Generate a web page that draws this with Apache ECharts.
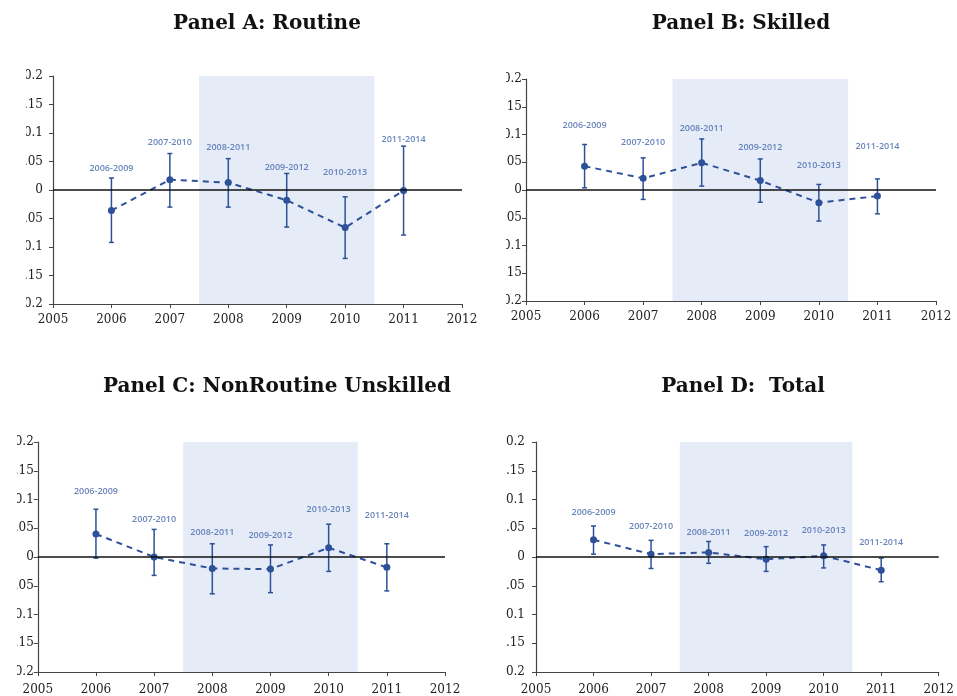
<!DOCTYPE html>
<html>
<head>
<meta charset="utf-8">
<script src="https://cdn.jsdelivr.net/npm/echarts@6/dist/echarts.min.js"></script>
<style>
html,body{margin:0;padding:0;background:#fff;}
#chart{width:957px;height:696px;}
</style>
</head>
<body>
<div id="chart"></div>
<script>
// ---- data ----
const years = [2006, 2007, 2008, 2009, 2010, 2011];
const periodLabels = ['2006-2009', '2007-2010', '2008-2011', '2009-2012', '2010-2013', '2011-2014'];
const panelTitles = ['Panel A: Routine', 'Panel B: Skilled', 'Panel C: NonRoutine Unskilled', 'Panel D:  Total'];
const shadeRange = [2007.5, 2010.5];

const routineEst = [-0.036, 0.018, 0.013, -0.018, -0.066, -0.001];
const routineHi  = [0.021, 0.064, 0.055, 0.029, -0.012, 0.077];
const routineLo  = [-0.092, -0.030, -0.030, -0.065, -0.120, -0.079];
const routineLabelY = [0.038, 0.083, 0.074, 0.040, 0.030, 0.089];

const skilledEst = [0.043, 0.021, 0.049, 0.017, -0.023, -0.011];
const skilledHi  = [0.082, 0.058, 0.092, 0.056, 0.010, 0.020];
const skilledLo  = [0.004, -0.017, 0.007, -0.022, -0.056, -0.043];
const skilledLabelY = [0.117, 0.086, 0.111, 0.076, 0.044, 0.079];

const nonroutEst = [0.040, 0.000, -0.020, -0.021, 0.016, -0.018];
const nonroutHi  = [0.083, 0.048, 0.023, 0.021, 0.057, 0.023];
const nonroutLo  = [-0.002, -0.032, -0.064, -0.062, -0.025, -0.059];
const nonroutLabelY = [0.114, 0.065, 0.042, 0.038, 0.082, 0.072];

const totalEst = [0.030, 0.005, 0.008, -0.004, 0.002, -0.023];
const totalHi  = [0.054, 0.029, 0.027, 0.018, 0.021, -0.002];
const totalLo  = [0.005, -0.020, -0.011, -0.025, -0.019, -0.043];
const totalLabelY = [0.078, 0.054, 0.043, 0.041, 0.046, 0.025];

const panels = [
  {est: routineEst, hi: routineHi, lo: routineLo, ly: routineLabelY},
  {est: skilledEst, hi: skilledHi, lo: skilledLo, ly: skilledLabelY},
  {est: nonroutEst, hi: nonroutHi, lo: nonroutLo, ly: nonroutLabelY},
  {est: totalEst, hi: totalHi, lo: totalLo, ly: totalLabelY}
];

// ---- layout / style ----
const grids = [
  {left: 53, top: 76, width: 409, height: 228},
  {left: 526, top: 79, width: 410, height: 222},
  {left: 37, top: 442, width: 408, height: 231},
  {left: 536, top: 442, width: 407, height: 231}
];
const yLabelMargin = [10, 4, 4, 11];
const xLabelMargin = [10, 10, 12, 12];
const titlePos = [{x: 262, y: 9}, {x: 736, y: 9}, {x: 272, y: 372}, {x: 738, y: 372}];
const clipRects = [
  {x: 0, y: 62, w: 26, h: 252},
  {x: 480, y: 62, w: 26, h: 252},
  {x: 0, y: 430, w: 17, h: 252},
  {x: 480, y: 430, w: 26, h: 252}
];
const markColor = '#2d5198';
const labelColor = '#4566ab';
const axisFont = {fontFamily: 'DejaVu Serif', fontSize: 12, color: '#222'};

const option = {
  animation: false,
  backgroundColor: '#fff',
  title: panelTitles.map((t, i) => ({
    text: t, left: titlePos[i].x, top: titlePos[i].y, textAlign: 'center',
    textStyle: {fontFamily: 'DejaVu Serif', fontWeight: 'bold', fontSize: 20, color: '#111'}
  })),
  grid: grids,
  xAxis: grids.map((g, i) => ({
    type: 'value', gridIndex: i, min: 2005, max: 2012, interval: 1,
    axisLine: {show: true, onZero: false, lineStyle: {color: '#444', width: 1.2}},
    axisTick: {show: true, length: 4, lineStyle: {color: '#444'}},
    axisLabel: Object.assign({margin: xLabelMargin[i], formatter: v => String(v)}, axisFont),
    splitLine: {show: false}
  })),
  yAxis: grids.map((g, i) => ({
    type: 'value', gridIndex: i, min: -0.2, max: 0.2, interval: 0.05,
    axisLine: {show: true, lineStyle: {color: '#444', width: 1.2}},
    axisTick: {show: true, length: 4, lineStyle: {color: '#444'}},
    axisLabel: Object.assign({margin: yLabelMargin[i], formatter: v => String(Math.round(v * 100) / 100)}, axisFont),
    splitLine: {show: false}
  })),
  graphic: clipRects.map(r => ({
    type: 'rect', z: 100, shape: {x: r.x, y: r.y, width: r.w, height: r.h},
    style: {fill: '#fff'}, silent: true
  })),
  series: []
};

panels.forEach((p, i) => {
  // error bars (with shaded band)
  option.series.push({
    type: 'custom', xAxisIndex: i, yAxisIndex: i, z: 3,
    data: years.map((y, k) => [y, p.lo[k], p.hi[k]]),
    renderItem: function (params, api) {
      const top = api.coord([api.value(0), api.value(2)]);
      const bot = api.coord([api.value(0), api.value(1)]);
      const hw = 2.5;
      const st = {stroke: markColor, lineWidth: 1.5};
      return {
        type: 'group',
        children: [
          {type: 'line', shape: {x1: top[0], y1: top[1], x2: bot[0], y2: bot[1]}, style: st},
          {type: 'line', shape: {x1: top[0] - hw, y1: top[1], x2: top[0] + hw, y2: top[1]}, style: st},
          {type: 'line', shape: {x1: bot[0] - hw, y1: bot[1], x2: bot[0] + hw, y2: bot[1]}, style: st}
        ]
      };
    },
    markArea: {
      silent: true,
      itemStyle: {color: '#e6ecf7'},
      data: [[{xAxis: shadeRange[0]}, {xAxis: shadeRange[1]}]]
    }
  });
  // point estimates
  option.series.push({
    type: 'line', xAxisIndex: i, yAxisIndex: i, z: 4,
    data: years.map((y, k) => [y, p.est[k]]),
    symbol: 'circle', symbolSize: 7, showSymbol: true,
    itemStyle: {color: markColor},
    lineStyle: {color: markColor, width: 2, type: [6, 5]},
    markLine: {
      silent: true, symbol: 'none', label: {show: false},
      lineStyle: {color: '#111', width: 1.5, type: 'solid'},
      data: [{yAxis: 0}]
    }
  });
  // period labels
  option.series.push({
    type: 'scatter', xAxisIndex: i, yAxisIndex: i, z: 5,
    symbolSize: 0,
    data: years.map((y, k) => ({value: [y, p.ly[k]], name: periodLabels[k]})),
    label: {
      show: true, position: 'inside', formatter: d => d.name,
      fontFamily: 'Open Sans', fontSize: 9, fontWeight: 600, color: labelColor
    }
  });
});

const chart = echarts.init(document.getElementById('chart'), null, {renderer: 'canvas'});
chart.setOption(option);
</script>
</body>
</html>
